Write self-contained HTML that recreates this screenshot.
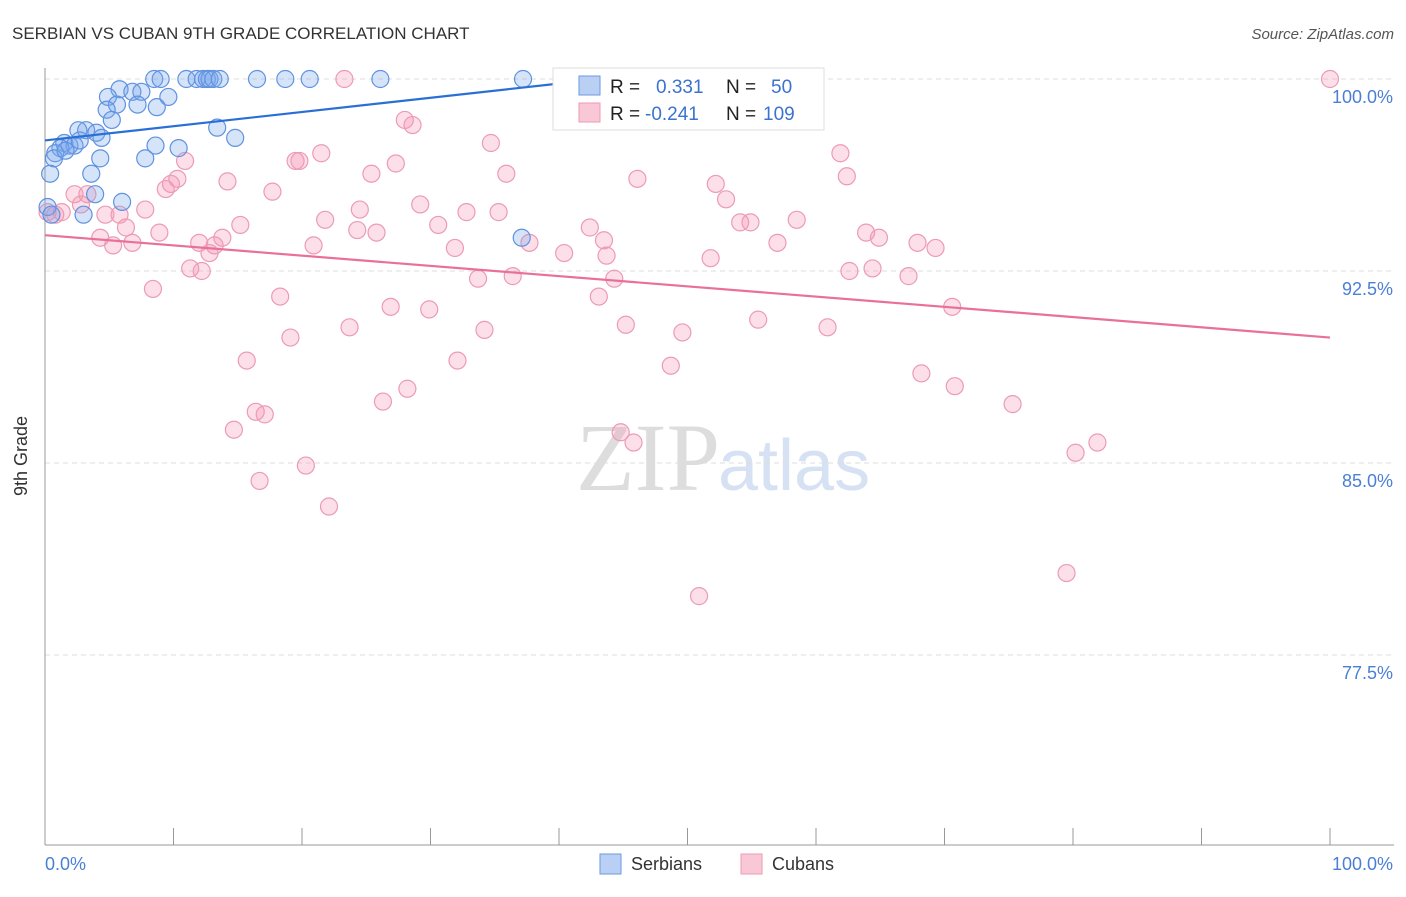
<!DOCTYPE html>
<html><head><meta charset="utf-8"><style>
body{margin:0;background:#fff;font-family:"Liberation Sans",sans-serif;}
</style></head><body>
<svg width="1406" height="892" viewBox="0 0 1406 892" xmlns="http://www.w3.org/2000/svg">
<text x="12" y="39" font-size="17" fill="#333">SERBIAN VS CUBAN 9TH GRADE CORRELATION CHART</text>
<text x="1394" y="39" font-size="15" fill="#555" font-style="italic" text-anchor="end">Source: ZipAtlas.com</text>
<text x="720" y="490" font-size="96" fill="#ddd" text-anchor="end" font-family="Liberation Serif,serif">ZIP</text>
<text x="718" y="490" font-size="72" fill="#d6e2f4">atlas</text>
<g id="grid"></g>
<line x1="45" y1="68" x2="45" y2="845" stroke="#999"/>
<line x1="45" y1="845" x2="1394" y2="845" stroke="#999"/>
<g id="xticks"></g>
<text x="27" y="456" font-size="18" fill="#333" transform="rotate(-90 27 456)" text-anchor="middle">9th Grade</text>
<text x="45" y="870" font-size="18" fill="#4a7fd4">0.0%</text>
<text x="1393" y="870" font-size="18" fill="#4a7fd4" text-anchor="end">100.0%</text>
<g id="pts"></g>
<g id="lines"></g>
<g>
<rect x="553" y="68" width="271" height="62" fill="#fff" stroke="#ddd"/>
<rect x="579" y="76" width="21" height="19" fill="#b9d0f4" stroke="#6b9ae0"/>
<rect x="579" y="103" width="21" height="19" fill="#f9c8d6" stroke="#ef9ab4"/>
<text x="610" y="93" font-size="19" fill="#222">R =</text>
<text x="656" y="93" font-size="19" fill="#3a73d0">0.331</text>
<text x="726" y="93" font-size="19" fill="#222">N =</text>
<text x="771" y="93" font-size="19" fill="#3a73d0">50</text>
<text x="610" y="120" font-size="19" fill="#222">R =</text>
<text x="645" y="120" font-size="19" fill="#3a73d0">-0.241</text>
<text x="726" y="120" font-size="19" fill="#222">N =</text>
<text x="763" y="120" font-size="19" fill="#3a73d0">109</text>
</g>
<g>
<rect x="600" y="854" width="21" height="20" fill="#b9d0f4" stroke="#6b9ae0"/>
<text x="631" y="870" font-size="18" fill="#333">Serbians</text>
<rect x="741" y="854" width="21" height="20" fill="#f9c8d6" stroke="#ef9ab4"/>
<text x="772" y="870" font-size="18" fill="#333">Cubans</text>
</g>
</svg>
<script>
const yTicks=[100,92.5,85,77.5];
const yTickLabels=["100.0%","92.5%","85.0%","77.5%"];
const xTicks=[0,10,20,30,40,50,60,70,80,90,100];
const serbX=[8.5,9,11,11.8,12.3,12.6,12.8,13.1,13.6,16.5,18.7,20.6,26.1,37.2,5.8,4.9,6.8,7.5,9.6,5.6,7.2,8.7,4.8,5.2,13.4,3.2,4,4.4,14.8,2.6,1.5,1.9,2.3,1.2,0.8,0.7,4.3,7.8,8.6,10.4,3.6,0.4,3.9,6,0.2,3,37.1,0.5,1.6,2.7];
const serbY=[100,100,100,100,100,100,100,100,100,100,100,100,100,100,99.6,99.3,99.5,99.5,99.3,99,99,98.9,98.8,98.4,98.1,98,97.9,97.7,97.7,98,97.5,97.4,97.4,97.3,97.1,96.9,96.9,96.9,97.4,97.3,96.3,96.3,95.5,95.2,95,94.7,93.8,94.7,97.2,97.6];
const cubaX=[100,23.3,28,28.6,34.7,61.9,21.5,19.5,19.8,27.3,10.9,25.4,35.9,46.1,62.4,10.3,9.8,9.4,14.2,17.7,52.2,53,29.2,24.5,32.8,35.3,2.3,3.3,2.8,7.8,5.8,1.3,0.2,0.8,4.7,58.5,54.1,54.9,21.8,15.2,30.6,42.4,24.3,25.8,6.3,8.9,4.3,13.8,63.9,64.9,67.9,69.3,43.5,37.7,57,6.8,5.3,12,13.2,12.8,20.9,31.9,40.4,43.7,51.8,11.3,12.2,62.6,64.4,33.7,36.4,67.2,44.3,8.4,18.3,43.1,26.9,29.9,70.6,23.7,34.2,45.2,55.5,60.9,49.6,19.1,15.7,32.1,48.7,68.2,28.2,70.8,26.3,75.3,16.4,17.1,14.7,44.8,45.8,81.9,80.2,20.3,16.7,22.1,79.5,50.9];
const cubaY=[100,100,98.4,98.2,97.5,97.1,97.1,96.8,96.8,96.7,96.8,96.3,96.3,96.1,96.2,96.1,95.9,95.7,96,95.6,95.9,95.3,95.1,94.9,94.8,94.8,95.5,95.5,95.1,94.9,94.7,94.8,94.8,94.7,94.7,94.5,94.4,94.4,94.5,94.3,94.3,94.2,94.1,94,94.2,94,93.8,93.8,94,93.8,93.6,93.4,93.7,93.6,93.6,93.6,93.5,93.6,93.5,93.2,93.5,93.4,93.2,93.1,93,92.6,92.5,92.5,92.6,92.2,92.3,92.3,92.2,91.8,91.5,91.5,91.1,91,91.1,90.3,90.2,90.4,90.6,90.3,90.1,89.9,89,89,88.8,88.5,87.9,88,87.4,87.3,87,86.9,86.3,86.2,85.8,85.8,85.4,84.9,84.3,83.3,80.7,79.8];
const serbLine=[0,97.6,39.6,99.8];
const cubaLine=[0,93.9,100,89.9];
const X=v=>45+v*12.85, Y=v=>79+(100-v)*25.6;
const NS="http://www.w3.org/2000/svg";
function mk(t,a,p){const e=document.createElementNS(NS,t);for(const k in a)e.setAttribute(k,a[k]);p.appendChild(e);return e;}
const grid=document.getElementById('grid');
yTicks.forEach((t,i)=>{
 const l=mk('line',{x1:45,x2:1394,y1:Y(t),y2:Y(t),stroke:'#ddd','stroke-dasharray':'5,4'},grid);
 
 
 const tx=mk('text',{x:1393,y:Y(t)+24,'font-size':18,fill:'#4a7fd4','text-anchor':'end'},grid);
 tx.textContent=yTickLabels[i];
 
 
});
const xt=document.getElementById('xticks');
xTicks.forEach(t=>{
 const l=mk('line',{x1:X(t),x2:X(t),y1:828,y2:845,stroke:'#999'},xt);
 
 
});
const pts=document.getElementById('pts');
cubaX.forEach((v,i)=>{
 const c=mk('circle',{cx:X(v),cy:Y(cubaY[i]),r:8.5,fill:'rgba(244,150,180,0.3)',stroke:'#ec9bb5','stroke-width':1.2},pts);
 
 
});
serbX.forEach((v,i)=>{
 const c=mk('circle',{cx:X(v),cy:Y(serbY[i]),r:8.5,fill:'rgba(120,165,235,0.3)',stroke:'#5f92e0','stroke-width':1.2},pts);
 
 
});
const ln=document.getElementById('lines');
const l1=mk('line',{x1:X(serbLine[0]),y1:Y(serbLine[1]),x2:X(serbLine[2]),y2:Y(serbLine[3]),stroke:'#2a6fd6','stroke-width':2.2},ln);


const l2=mk('line',{x1:X(cubaLine[0]),y1:Y(cubaLine[1]),x2:X(cubaLine[2]),y2:Y(cubaLine[3]),stroke:'#e8709a','stroke-width':2.2},ln);


</script>
</body></html>
